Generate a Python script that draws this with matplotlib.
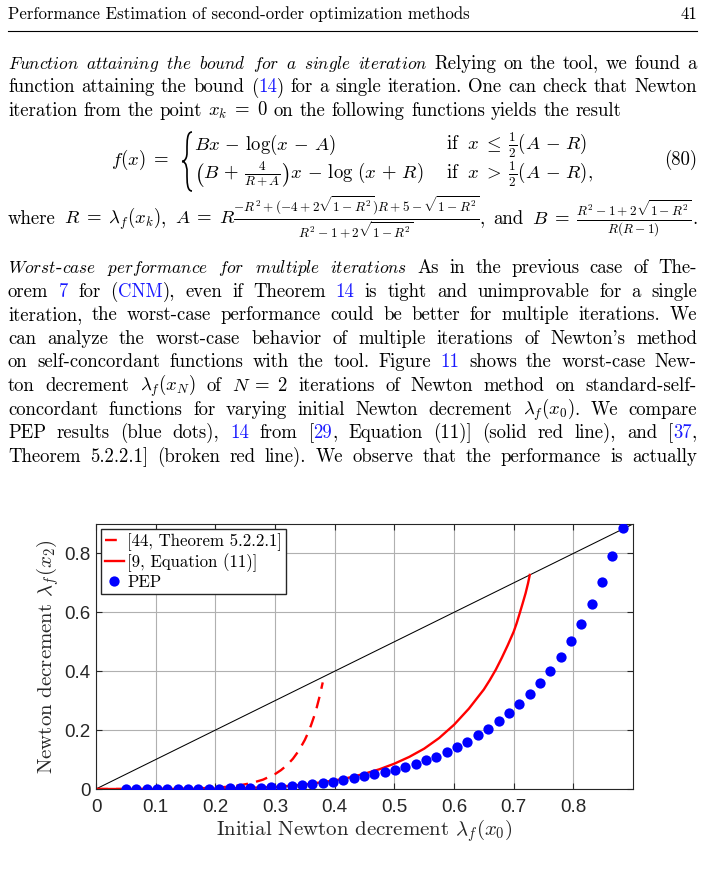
import matplotlib
matplotlib.use('Agg')
import matplotlib.pyplot as plt
from matplotlib.path import Path
from matplotlib.patches import PathPatch

plt.rcParams['mathtext.fontset'] = 'cm'

# ---- data ----
pep_x = [0.050, 0.067, 0.085, 0.102, 0.119, 0.137, 0.154, 0.171, 0.189, 0.206,
         0.224, 0.241, 0.258, 0.276, 0.293, 0.310, 0.328, 0.345, 0.362, 0.380,
         0.397, 0.414, 0.432, 0.449, 0.466, 0.484, 0.501, 0.518, 0.536, 0.553,
         0.570, 0.588, 0.605, 0.622, 0.640, 0.657, 0.675, 0.692, 0.709, 0.727,
         0.744, 0.761, 0.779, 0.796, 0.813, 0.831, 0.848, 0.865, 0.883]
pep_y = [0.000, 0.000, 0.000, 0.000, 0.000, 0.000, 0.000, 0.001, 0.001, 0.001,
         0.002, 0.002, 0.003, 0.004, 0.006, 0.008, 0.010, 0.013, 0.016, 0.020,
         0.025, 0.030, 0.036, 0.043, 0.050, 0.058, 0.066, 0.076, 0.086, 0.097,
         0.109, 0.124, 0.141, 0.160, 0.182, 0.205, 0.231, 0.258, 0.288, 0.321,
         0.361, 0.402, 0.450, 0.503, 0.562, 0.629, 0.704, 0.790, 0.888]

nest_x = [0.0, 0.05, 0.10, 0.15, 0.20, 0.22, 0.24, 0.26, 0.28, 0.30, 0.31,
          0.32, 0.33, 0.34, 0.35, 0.355, 0.36, 0.365, 0.37, 0.375, 0.38]
nest_y = [0.0, 0.0, 0.0002, 0.001, 0.0044, 0.0075, 0.0123, 0.0198, 0.0318,
          0.0506, 0.064, 0.0809, 0.1026, 0.1305, 0.1667, 0.1889, 0.2143,
          0.2435, 0.2772, 0.3164, 0.362]

eq11_x = [0.0, 0.05, 0.10, 0.15, 0.20, 0.25, 0.30, 0.35, 0.40, 0.425, 0.45,
          0.475, 0.50, 0.525, 0.55, 0.575, 0.60, 0.625, 0.65, 0.66, 0.67,
          0.68, 0.69, 0.70, 0.705, 0.71, 0.715, 0.72, 0.724, 0.727]
eq11_y = [0.0, 0.0, 0.0, 0.0005, 0.0015, 0.0035, 0.007, 0.015, 0.029, 0.039,
          0.052, 0.067, 0.086, 0.109, 0.137, 0.173, 0.218, 0.273, 0.338,
          0.370, 0.405, 0.445, 0.488, 0.534, 0.563, 0.596, 0.630, 0.665,
          0.698, 0.727]

diag_x = [0.0, 0.9]
diag_y = [0.0, 0.9]

xticks = [0, 0.1, 0.2, 0.3, 0.4, 0.5, 0.6, 0.7, 0.8]
xticklabels = ['0', '0.1', '0.2', '0.3', '0.4', '0.5', '0.6', '0.7', '0.8']
yticks = [0, 0.2, 0.4, 0.6, 0.8]
yticklabels = ['0', '0.2', '0.4', '0.6', '0.8']
labels = ['[44, Theorem 5.2.2.1]', '[9, Equation (11)]', 'PEP']

BODY = 13.5
ITAL = 12.4
LINK = '#1a1aff'
SERIF = 'cmr10'

fig = plt.figure(figsize=(7.04, 8.84), dpi=100)
page = fig.add_axes([0, 0, 1, 1])
page.set_xlim(0, 704)
page.set_ylim(884, 0)
page.axis('off')
renderer = fig.canvas.get_renderer()


def split_line(line):
    # $..$ math, *..* italic, `..` link colour; spaces split words
    words, pieces, buf, kind = [], [], '', 'r'
    italic = blue = False
    i = 0
    while i < len(line):
        c = line[i]
        if c == '$':
            j = line.index('$', i + 1)
            if buf:
                pieces.append((buf, kind))
                buf = ''
            pieces.append((line[i:j + 1], 'm'))
            i = j + 1
            continue
        if c == '*':
            italic = not italic
        elif c == '`':
            blue = not blue
        elif c == ' ':
            if buf:
                pieces.append((buf, kind))
                buf = ''
            if pieces:
                words.append(pieces)
                pieces = []
        else:
            k = 'i' if (italic and c != '-') else ('b' if blue else 'r')
            if k != kind and buf:
                pieces.append((buf, kind))
                buf = ''
            kind = k
            buf += c
        i += 1
    if buf:
        pieces.append((buf, kind))
    if pieces:
        words.append(pieces)
    return words


def put(x, y, s, kind, size=BODY):
    if kind == 'i':
        return page.text(x, y, r'$\mathit{' + s + '}$', fontsize=ITAL,
                         va='baseline', ha='left')
    if kind == 'm':
        return page.text(x, y, s, fontsize=size, va='baseline', ha='left')
    col = LINK if kind == 'b' else 'black'
    return page.text(x, y, s, fontsize=size, family=SERIF, color=col,
                     va='baseline', ha='left')


def draw_line(line, y, justify=True, x0=8, x1=697, size=BODY):
    groups, widths = [], []
    for w in split_line(line):
        g, x = [], 0.0
        for s, k in w:
            t = put(0, y, s, k, size)
            g.append((t, x))
            x += t.get_window_extent(renderer).width
        groups.append(g)
        widths.append(x)
    if justify and len(groups) > 1:
        gap = (x1 - x0 - sum(widths)) / (len(groups) - 1)
    else:
        gap = size * 100 / 72 * 0.333
    x = x0
    for g, wd in zip(groups, widths):
        for t, dx in g:
            t.set_x(x + dx)
        x += wd + gap


def brace(x, y0, y1, w):
    ym = (y0 + y1) / 2
    h = w * 0.9
    verts = [(x + w, y0),
             (x + w / 2, y0), (x + w / 2, y0 + h), (x + w / 2, y0 + 2 * h),
             (x + w / 2, ym - h),
             (x + w / 2, ym), (x, ym), (x, ym),
             (x + w / 2, ym), (x + w / 2, ym + h), (x + w / 2, ym + h),
             (x + w / 2, y1 - 2 * h),
             (x + w / 2, y1 - h), (x + w / 2, y1), (x + w, y1)]
    codes = [Path.MOVETO] + [Path.CURVE4] * 3 + [Path.LINETO] + \
        [Path.CURVE4] * 6 + [Path.LINETO] + [Path.CURVE4] * 3
    page.add_patch(PathPatch(Path(verts, codes), fill=False, lw=1.2,
                             color='black'))


# ---- page header ----
page.text(8, 19, 'Performance Estimation of second-order optimization methods',
          family=SERIF, fontsize=12.1, va='baseline')
page.text(697, 19, '41', family=SERIF, fontsize=12.1, va='baseline', ha='right')
page.plot([8, 697], [31, 31], color='black', lw=0.8)

# ---- first paragraph ----
p1 = ['*Function attaining the bound for a single iteration* Relying on the tool, we found a',
      'function attaining the bound (`14`) for a single iteration. One can check that Newton',
      r'iteration from the point $x_k \;=\; 0$ on the following functions yields the result']
for k, ln in enumerate(p1):
    draw_line(ln, 69 + 23.5 * k, justify=(k < len(p1) - 1))

# ---- equation (80) ----
page.text(111, 165, r'$f(x) \;=\;$', fontsize=BODY, va='baseline')
brace(182, 132, 191, 10)
page.text(194, 150, r'$Bx \,-\, \log(x \,-\, A)$', fontsize=BODY, va='baseline')
page.text(446, 150, r'$\mathrm{if}\ \ x \;\leq\; \frac{1}{2}(A \,-\, R)$', fontsize=BODY, va='baseline')
page.text(194, 179, r'$\left(B \,+\, \frac{4}{R+A}\right)x \,-\, \log\,(x \,+\, R)$', fontsize=BODY, va='baseline')
page.text(446, 179, r'$\mathrm{if}\ \ x \;>\; \frac{1}{2}(A \,-\, R),$', fontsize=BODY, va='baseline')
page.text(697, 165, '(80)', family=SERIF, fontsize=BODY, va='baseline', ha='right')

draw_line(r'where $R \;=\; \lambda_f(x_k)$, $A \;=\; R\frac{-R^2+(-4+2\sqrt{1-R^2})R+5-\sqrt{1-R^2}}{R^2-1+2\sqrt{1-R^2}}$, '
          r'and $B \;=\; \frac{R^2-1+2\sqrt{1-R^2}}{R(R-1)}$.', 224)

# ---- second paragraph ----
p2 = ['*Worst-case performance for multiple iterations* As in the previous case of The-',
      'orem `7` for (`CNM`), even if Theorem `14` is tight and unimprovable for a single',
      'iteration, the worst-case performance could be better for multiple iterations. We',
      "can analyze the worst-case behavior of multiple iterations of Newton's method",
      'on self-concordant functions with the tool. Figure `11` shows the worst-case New-',
      r'ton decrement $\lambda_f(x_N)$ of $N \;=\; 2$ iterations of Newton method on standard-self-',
      r'concordant functions for varying initial Newton decrement $\lambda_f(x_0)$. We compare',
      'PEP results (blue dots), `14` from [`29`, Equation (11)] (solid red line), and [`37`,',
      'Theorem 5.2.2.1] (broken red line). We observe that the performance is actually']
for k, ln in enumerate(p2):
    draw_line(ln, 273 + 23.6 * k)

# ---- chart ----
ax = fig.add_axes([96 / 704, 1 - 789 / 884, (633 - 96) / 704, (789 - 524) / 884])
ax.plot(diag_x, diag_y, color='black', lw=0.75)
ax.plot(nest_x, nest_y, color='#ff0000', lw=1.7, dashes=(5, 3.5), label=labels[0])
ax.plot(eq11_x, eq11_y, color='#ff0000', lw=1.7, label=labels[1])
ax.plot(pep_x, pep_y, 'o', color='#0000ff', ms=7.4, mew=0, ls='none',
        label=labels[2], zorder=5)
ax.set_xlim(0, 0.9)
ax.set_ylim(0, 0.9)
ax.set_xticks(xticks)
ax.set_xticklabels(xticklabels, family='Liberation Sans', fontsize=13.5)
ax.set_yticks(yticks)
ax.set_yticklabels(yticklabels, family='Liberation Sans', fontsize=13.5)
ax.tick_params(direction='in', top=True, right=True, length=4, width=0.8,
               color='#262626', labelcolor='#262626')
ax.tick_params(axis='x', pad=7)
ax.tick_params(axis='y', pad=4)
ax.grid(True, color='#b0b0b0', lw=0.8)
ax.set_axisbelow(True)
for sp in ax.spines.values():
    sp.set_color('#262626')
    sp.set_linewidth(0.8)
ax.set_xlabel(r'Initial Newton decrement $\lambda_f(x_0)$', family=SERIF,
              fontsize=15, color='#262626', labelpad=1)
ax.set_ylabel(r'Newton decrement $\lambda_f(x_2)$', family=SERIF,
              fontsize=15, color='#262626', labelpad=2)
ax.legend(loc='upper left', prop={'family': SERIF, 'size': 12.1},
          fancybox=False, edgecolor='#262626', framealpha=1,
          handlelength=1.1, handletextpad=0.2, borderaxespad=0.3,
          labelspacing=0.15, borderpad=0.25)

fig.savefig('out.png', dpi=100)
